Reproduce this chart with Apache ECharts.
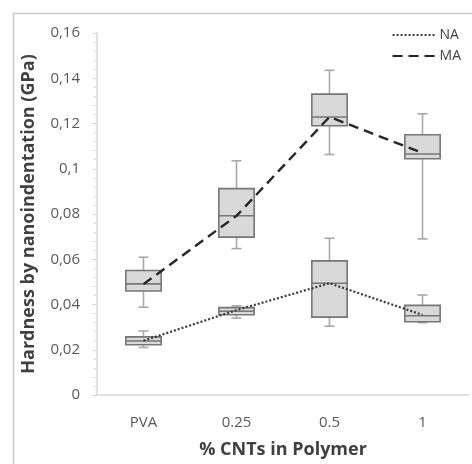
<!DOCTYPE html>
<html><head><meta charset="utf-8">
<script src="https://cdn.jsdelivr.net/npm/echarts@6/dist/echarts.min.js"></script>
<style>html,body{margin:0;padding:0;background:#fff}#c{width:472px;height:464px}</style>
</head><body><div id="c"></div>
<script>
const categories = ['PVA', '0.25', '0.5', '1'];
// box stats: [min, q1, median, q3, max]
const naBoxes = [
  [0.0210, 0.0222, 0.0239, 0.0257, 0.0283],
  [0.0340, 0.0355, 0.0370, 0.0386, 0.0394],
  [0.0304, 0.0344, 0.0494, 0.0593, 0.0693],
  [0.0320, 0.0324, 0.0350, 0.0396, 0.0442]
];
const maBoxes = [
  [0.0388, 0.0460, 0.0491, 0.0550, 0.0609],
  [0.0647, 0.0698, 0.0792, 0.0912, 0.1035],
  [0.1063, 0.1190, 0.1229, 0.1330, 0.1435],
  [0.0690, 0.1044, 0.1065, 0.1150, 0.1243]
];
const naLine = [0.0240, 0.0375, 0.0494, 0.0354];
const maLine = [0.0490, 0.0792, 0.1229, 0.1070];
const yTicks = { min: 0, max: 0.16, interval: 0.02 };

const chart = echarts.init(document.getElementById('c'), null, {renderer: 'canvas'});
const font = '"Open Sans", Lato, sans-serif';

function boxData(arr) { return arr.map((b, i) => [i].concat(b)); }

function renderBox(params, api) {
  const i = api.value(0);
  const vmin = api.value(1), q1 = api.value(2), med = api.value(3), q3 = api.value(4), vmax = api.value(5);
  const pMin = api.coord([i, vmin]);
  const pQ1 = api.coord([i, q1]);
  const pMed = api.coord([i, med]);
  const pQ3 = api.coord([i, q3]);
  const pMax = api.coord([i, vmax]);
  const bw = api.size([1, 0])[0] * 0.38;
  const cw = 10;
  const x = pMed[0];
  const wStyle = {stroke: '#a8a8a8', lineWidth: 1.6, fill: null};
  const bStyle = {stroke: '#767676', lineWidth: 1.6};
  return {
    type: 'group',
    children: [
      {type: 'line', shape: {x1: x, y1: pMax[1], x2: x, y2: pQ3[1]}, style: wStyle},
      {type: 'line', shape: {x1: x - cw/2, y1: pMax[1], x2: x + cw/2, y2: pMax[1]}, style: wStyle},
      {type: 'line', shape: {x1: x, y1: pMin[1], x2: x, y2: pQ1[1]}, style: wStyle},
      {type: 'line', shape: {x1: x - cw/2, y1: pMin[1], x2: x + cw/2, y2: pMin[1]}, style: wStyle},
      {type: 'rect', shape: {x: x - bw/2, y: pQ3[1], width: bw, height: pQ1[1] - pQ3[1]},
        style: {fill: '#d9d9d9', stroke: '#767676', lineWidth: 1.6}},
      {type: 'line', shape: {x1: x - bw/2, y1: pMed[1], x2: x + bw/2, y2: pMed[1]}, style: bStyle}
    ]
  };
}

chart.setOption({
  animation: false,
  backgroundColor: '#fff',
  graphic: [{
    type: 'rect', left: 11, top: 11, z: -1,
    shape: {width: 470, height: 470},
    style: {fill: null, stroke: '#c8c8c8', lineWidth: 1.5}
  }],
  grid: {left: 97, right: 3, top: 33, bottom: 69},
  legend: {
    orient: 'vertical', right: 6, top: 23, itemGap: 7,
    itemWidth: 42, itemHeight: 14,
    itemStyle: {opacity: 0},
    textStyle: {fontFamily: font, fontSize: 14, color: '#404040'},
    data: ['NA', 'MA']
  },
  xAxis: {
    type: 'category', data: categories, boundaryGap: true,
    axisLine: {lineStyle: {color: '#d9d9d9', width: 1.5}},
    axisTick: {show: false},
    axisLabel: {fontFamily: font, fontSize: 15, color: '#595959', margin: 20},
    name: '% CNTs in Polymer', nameLocation: 'middle', nameGap: 46,
    nameTextStyle: {fontFamily: font, fontSize: 18, fontWeight: 'bold', color: '#404040'}
  },
  yAxis: {
    type: 'value', min: yTicks.min, max: yTicks.max, interval: yTicks.interval,
    splitLine: {show: false},
    axisLine: {show: true, lineStyle: {color: '#d9d9d9', width: 1.5}},
    axisTick: {show: true, length: 5, lineStyle: {color: '#d9d9d9'}},
    minorTick: {show: true, splitNumber: 5, length: 3, lineStyle: {color: '#d9d9d9'}},
    axisLabel: {
      fontFamily: font, fontSize: 15, color: '#595959', margin: 17,
      formatter: v => String(Math.round(v * 100) / 100).replace('.', ',')
    },
    name: 'Hardness by nanoindentation (GPa)', nameLocation: 'middle', nameGap: 59, nameRotate: 90,
    nameTextStyle: {fontFamily: font, fontSize: 18, fontWeight: 'bold', color: '#404040'}
  },
  series: [
    {type: 'custom', name: 'NAbox', renderItem: renderBox, data: boxData(naBoxes), z: 2,
      encode: {x: 0, y: [1, 2, 3, 4, 5]}},
    {type: 'custom', name: 'MAbox', renderItem: renderBox, data: boxData(maBoxes), z: 2,
      encode: {x: 0, y: [1, 2, 3, 4, 5]}},
    {type: 'line', name: 'NA', data: naLine, symbol: 'none', z: 5,
      lineStyle: {type: [2, 2], width: 2.2, color: '#3a3a3a'}, itemStyle: {color: '#3a3a3a'}},
    {type: 'line', name: 'MA', data: maLine, symbol: 'none', z: 5,
      lineStyle: {type: [10, 6], width: 2.4, color: '#262626'}, itemStyle: {color: '#262626'}}
  ]
});
</script></body></html>
